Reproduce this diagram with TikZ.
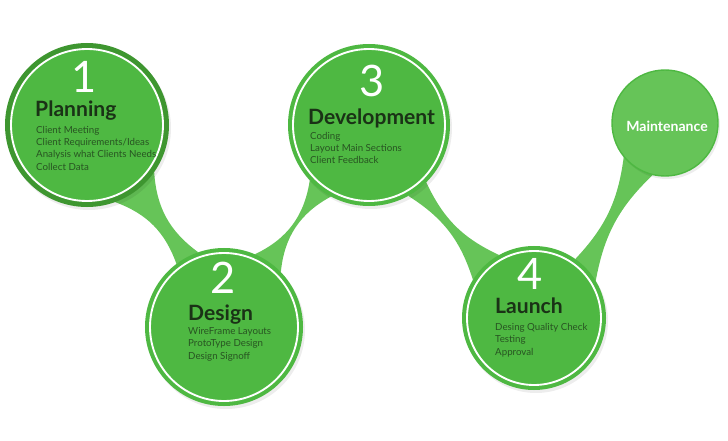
\documentclass[tikz,border=0pt]{standalone}
\usepackage{fontspec}
\setmainfont{Lato}
\usetikzlibrary{calc,backgrounds}
\definecolor{SdlcGreen}{RGB}{78,184,66}
\definecolor{SdlcLight}{RGB}{102,196,88}
\definecolor{SdlcDark}{RGB}{62,150,48}
\definecolor{SdlcInk}{RGB}{26,50,22}
\definecolor{SdlcText}{RGB}{40,84,34}
\tikzset{
  sdlc/stage/.style={
    circle,
    fill=SdlcGreen,
    inner sep=0pt,
    outer sep=0pt
  },
  sdlc/ring/.style={draw=white, line width=1.6pt},
  sdlc/link/.style={fill=SdlcLight},
  sdlc/shadow/.style={fill=black, opacity=0.07},
  sdlc/num/.style={font=\fontsize{37}{37}\selectfont, text=white, inner sep=0pt},
  sdlc/title/.style={font=\fontsize{18}{18}\selectfont\bfseries, text=SdlcInk, inner sep=0pt, anchor=base west},
  sdlc/list/.style={font=\fontsize{8.3}{10.5}\selectfont, text=SdlcText, align=left, inner sep=0pt, anchor=base west}
}

\begin{document}
\begin{tikzpicture}[x=0.03cm,y=0.03cm]
  \useasboundingbox (0,0) rectangle (728,440);
  % stages
  \node[sdlc/stage,fill=SdlcDark,minimum size=4.92cm] (plan) at (87,315) {};
  \node[sdlc/stage,minimum size=4.74cm] (design) at (224,113) {};
  \node[sdlc/stage,minimum size=4.86cm] (dev) at (369,315) {};
  \node[sdlc/stage,minimum size=4.32cm] (launch) at (534,122) {};
  \node[sdlc/stage,fill=SdlcLight,draw=SdlcGreen,line width=1.2pt,minimum size=3.18cm] (maint) at (665,317) {};
  \fill[SdlcGreen] (plan.center) circle (76);
  \draw[sdlc/ring] (plan.center) circle (76);
  \draw[sdlc/ring] (design.center) circle (74);
  \draw[sdlc/ring] (dev.center) circle (76);
  \draw[sdlc/ring] (launch.center) circle (67);
  \begin{pgfonlayer}{background}
    \path[sdlc/link] (plan.-35) to[bend right=25] (design.109) -- (design.127) to[bend right=25] (plan.-70) -- cycle;
    \path[sdlc/link] (design.67) to[bend right=28] (dev.-137) -- (dev.-118) to[bend right=28] (design.44) -- cycle;
    \path[sdlc/link] (dev.-45) to[bend right=20] (launch.119) -- (launch.148) to[bend right=20] (dev.-61) -- cycle;
    \path[sdlc/link] (launch.55) to[bend right=18] (maint.-141) -- (maint.-103) to[bend right=18] (launch.31) -- cycle;
    \foreach \s/\r in {plan/82,design/79,dev/81,launch/72,maint/53}{
      \fill[sdlc/shadow] ($(\s)+(2,-3)$) circle (\r);
    }
  \end{pgfonlayer}
  % texts
  \node[sdlc/num] (plan-num) at (84,363) {1};
  \node[sdlc/title] (plan-title) at (35,323) {Planning};
  \node[sdlc/list] (plan-list) at (36,270) {Client Meeting\\Client Requirements/Ideas\\Analysis what Clients Needs\\Collect Data};
  \node[sdlc/num] (design-num) at (223,162) {2};
  \node[sdlc/title] (design-title) at (188,120) {Design};
  \node[sdlc/list] (design-list) at (188,81) {WireFrame Layouts\\ProtoType Design\\Design Signoff};
  \node[sdlc/num] (dev-num) at (372,359) {3};
  \node[sdlc/title] (dev-title) at (308,315) {Development};
  \node[sdlc/list] (dev-list) at (310,276) {Coding\\Layout Main Sections\\Client Feedback};
  \node[sdlc/num] (launch-num) at (530,166) {4};
  \node[sdlc/title] (launch-title) at (495,127) {Launch};
  \node[sdlc/list] (launch-list) at (495,85) {Desing Quality Check\\Testing\\Approval};
  \node[font=\fontsize{12}{12}\selectfont\bfseries, text=white, inner sep=0pt] (maint-text) at (667,314) {Maintenance};
\end{tikzpicture}
\end{document}
